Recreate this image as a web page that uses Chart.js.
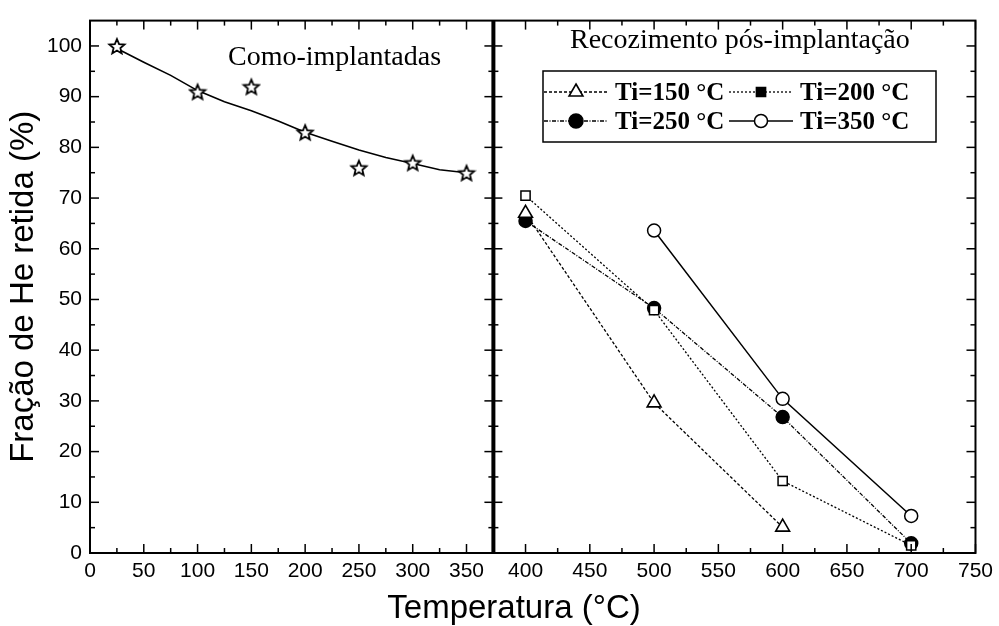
<!DOCTYPE html>
<html>
<head>
<meta charset="utf-8">
<script src="https://cdn.jsdelivr.net/npm/chart.js@4.4.1/dist/chart.umd.min.js"></script>
<style>
  html, body { margin: 0; background: #fff; }
  canvas { display: block; }
</style>
</head>
<body>
<canvas id="grafico" width="999" height="626"></canvas>
<script>
// Como-implantadas (estrelas) e curva de ajuste
const tempComo = [25, 100, 150, 200, 250, 300, 350];
const fracComo = [100, 91, 92, 83, 76, 77, 75];
const tempAjuste = [25, 50, 75, 100, 125, 150, 175, 200, 225, 250, 275, 300, 325, 350];
const fracAjuste = [99.5, 96.8, 94.2, 91.2, 89, 87.2, 85.2, 83, 81.2, 79.5, 78, 76.8, 75.6, 75];

// Recozimento pós-implantação
const tempTi150 = [400, 500, 600];
const fracTi150 = [67, 29.6, 5.1];
const tempTi200 = [400, 500, 600, 700];
const fracTi200 = [70.5, 47.9, 14.2, 1.5];
const tempTi250 = [400, 500, 600, 700];
const fracTi250 = [65.5, 48.3, 26.8, 1.9];
const tempTi350 = [500, 600, 700];
const fracTi350 = [63.6, 30.4, 7.3];

const ticksEsq = [0, 50, 100, 150, 200, 250, 300, 350];
const ticksDir = [400, 450, 500, 550, 600, 650, 700, 750];
const ticksY = [0, 10, 20, 30, 40, 50, 60, 70, 80, 90, 100];

const pares = (xs, ys) => xs.map((x, i) => ({ x: x, y: ys[i] }));

// estrela vazada (marcador)
function estrela(r) {
    const c = document.createElement('canvas');
    const s = Math.ceil(r * 2 + 4);
    c.width = s; c.height = s;
    const g = c.getContext('2d');
    g.beginPath();
    for (let i = 0; i < 10; i++) {
        const rad = i % 2 ? r * 0.45 : r;
        const a = -Math.PI / 2 + i * Math.PI / 5;
        g.lineTo(s / 2 + rad * Math.cos(a), s / 2 + 1 + rad * Math.sin(a));
    }
    g.closePath();
    g.fillStyle = '#fff';
    g.fill();
    g.lineWidth = 1.8;
    g.strokeStyle = '#000';
    g.stroke();
    return c;
}

const fonteSans = 'Liberation Sans';
const fonteSerif = 'Liberation Serif';

// moldura, divisória e ticks para dentro
const molduraPlugin = {
    id: 'moldura',
    afterDraw(chart) {
        const { ctx, chartArea: a, scales } = chart;
        const xE = scales.xEsq, xD = scales.xDir, y = scales.y;
        const meio = xD.left;
        const linha = (x1, y1, x2, y2) => { ctx.beginPath(); ctx.moveTo(x1, y1); ctx.lineTo(x2, y2); ctx.stroke(); };
        ctx.save();
        ctx.strokeStyle = '#000';
        ctx.lineWidth = 1.5;

        const marcaX = (sc, v, len) => {
            const px = sc.getPixelForValue(v);
            linha(px, a.bottom, px, a.bottom - len);
            linha(px, a.top, px, a.top + len);
        };
        ticksEsq.forEach(v => { marcaX(xE, v, 9); if (v + 25 < 375) marcaX(xE, v + 25, 5); });
        ticksDir.forEach(v => { marcaX(xD, v, 9); if (v - 25 > 375) marcaX(xD, v - 25, 5); });

        const marcaY = (v, len) => {
            const py = y.getPixelForValue(v);
            linha(a.left, py, a.left + len, py);
            linha(a.right, py, a.right - len, py);
            linha(meio - len, py, meio + len, py);
        };
        ticksY.forEach(v => { marcaY(v, 9); if (v + 5 < 105) marcaY(v + 5, 5); });

        ctx.lineWidth = 2;
        ctx.strokeRect(a.left, a.top, a.right - a.left, a.bottom - a.top);
        ctx.lineWidth = 4;
        linha(meio, a.top, meio, a.bottom);
        ctx.restore();
    }
};

// textos e legenda
const textosPlugin = {
    id: 'textos',
    afterDraw(chart) {
        const { ctx } = chart;
        ctx.save();
        ctx.fillStyle = '#000';
        ctx.textBaseline = 'alphabetic';
        ctx.textAlign = 'left';
        ctx.font = '28px "' + fonteSerif + '"';
        ctx.fillText('Como-implantadas', 228, 65);
        ctx.fillText('Recozimento pós-implantação', 570, 48);

        ctx.textAlign = 'center';
        ctx.font = '33px "' + fonteSans + '"';
        ctx.fillText('Temperatura (°C)', 514, 618);

        // caixa da legenda
        ctx.strokeStyle = '#000';
        ctx.lineWidth = 1.5;
        ctx.strokeRect(543, 71, 393, 71);

        const itens = chart.data.datasets.filter(d => d.legenda);
        const cols = [543, 728];
        const linhasY = [92, 121];
        itens.forEach((ds, i) => {
            const x0 = cols[i % 2];
            const yy = linhasY[Math.floor(i / 2)];
            ctx.setLineDash(ds.borderDash || []);
            ctx.lineWidth = 1.3;
            ctx.beginPath();
            ctx.moveTo(x0 + 1, yy);
            ctx.lineTo(x0 + 65, yy);
            ctx.stroke();
            ctx.setLineDash([]);
            ctx.fillStyle = ds.legenda.fill;
            ctx.strokeStyle = '#000';
            ctx.lineWidth = ds.pointBorderWidth;
            Chart.helpers.drawPoint(ctx, {
                pointStyle: ds.pointStyle,
                radius: ds.legenda.raio,
                rotation: 0,
                borderWidth: ds.pointBorderWidth
            }, x0 + 33, yy);
            ctx.fillStyle = '#000';
            ctx.textAlign = 'left';
            ctx.font = 'bold 25px "' + fonteSerif + '"';
            ctx.fillText(ds.label, x0 + 72, yy + 8);
        });
        ctx.restore();
    }
};

const ctx = document.getElementById('grafico').getContext('2d');

const fonteTicks = { family: fonteSans, size: 21 };

new Chart(ctx, {
    type: 'scatter',
    data: {
        datasets: [
            {
                label: 'Como-implantadas',
                data: pares(tempComo, fracComo),
                xAxisID: 'xEsq',
                pointStyle: estrela(8),
                pointRadius: 8,
                showLine: false
            },
            {
                label: 'Ajuste',
                data: pares(tempAjuste, fracAjuste),
                xAxisID: 'xEsq',
                showLine: true,
                borderColor: '#000',
                borderWidth: 1.6,
                pointRadius: 0
            },
            {
                label: 'Ti=150 °C',
                data: pares(tempTi150, fracTi150),
                xAxisID: 'xDir',
                showLine: true,
                borderColor: '#000',
                borderWidth: 1.3,
                borderDash: [3, 2],
                pointStyle: 'triangle',
                pointRadius: 8,
                pointBorderWidth: 1.6,
                pointBackgroundColor: '#fff',
                pointBorderColor: '#000',
                legenda: { fill: '#fff', raio: 8 }
            },
            {
                label: 'Ti=200 °C',
                data: pares(tempTi200, fracTi200),
                xAxisID: 'xDir',
                showLine: true,
                borderColor: '#000',
                borderWidth: 1.3,
                borderDash: [2, 2],
                pointStyle: 'rect',
                pointRadius: 6.5,
                pointBorderWidth: 1.5,
                pointBackgroundColor: '#fff',
                pointBorderColor: '#000',
                legenda: { fill: '#000', raio: 6.5 }
            },
            {
                label: 'Ti=250 °C',
                data: pares(tempTi250, fracTi250),
                xAxisID: 'xDir',
                showLine: true,
                borderColor: '#000',
                borderWidth: 1.3,
                borderDash: [4, 1.5, 1, 1.5],
                pointStyle: 'circle',
                pointRadius: 6.5,
                pointBorderWidth: 1.5,
                pointBackgroundColor: '#000',
                pointBorderColor: '#000',
                legenda: { fill: '#000', raio: 7 }
            },
            {
                label: 'Ti=350 °C',
                data: pares(tempTi350, fracTi350),
                xAxisID: 'xDir',
                showLine: true,
                borderColor: '#000',
                borderWidth: 1.5,
                pointStyle: 'circle',
                pointRadius: 6.5,
                pointBorderWidth: 1.5,
                pointBackgroundColor: '#fff',
                pointBorderColor: '#000',
                legenda: { fill: '#fff', raio: 6.5 }
            }
        ]
    },
    options: {
        responsive: false,
        animation: false,
        clip: false,
        layout: { padding: { top: 13, right: 20, left: 0, bottom: 0 } },
        scales: {
            xEsq: {
                type: 'linear',
                position: 'bottom',
                stack: 'temp',
                stackWeight: 405,
                min: 0,
                max: 375,
                afterBuildTicks: s => { s.ticks = ticksEsq.map(v => ({ value: v })); },
                afterFit: s => { s.height = 73; },
                grid: { display: false, drawTicks: false },
                border: { display: false },
                ticks: { padding: 6, maxRotation: 0, autoSkip: false, color: '#000', font: fonteTicks }
            },
            xDir: {
                type: 'linear',
                position: 'bottom',
                stack: 'temp',
                stackWeight: 484,
                min: 375,
                max: 750,
                afterBuildTicks: s => { s.ticks = ticksDir.map(v => ({ value: v })); },
                afterFit: s => { s.height = 73; },
                grid: { display: false, drawTicks: false },
                border: { display: false },
                ticks: { padding: 6, maxRotation: 0, autoSkip: false, color: '#000', font: fonteTicks }
            },
            y: {
                type: 'linear',
                position: 'left',
                min: 0,
                max: 105,
                afterBuildTicks: s => { s.ticks = ticksY.map(v => ({ value: v })); },
                afterFit: s => { s.width = 90; },
                grid: { display: false, drawTicks: false },
                border: { display: false },
                ticks: { padding: 8, color: '#000', font: fonteTicks },
                title: {
                    display: true,
                    text: 'Fração de He retida (%)',
                    color: '#000',
                    font: { family: fonteSans, size: 33 },
                    padding: { top: 4, bottom: 0 }
                }
            }
        },
        plugins: {
            legend: { display: false },
            tooltip: { enabled: false }
        }
    },
    plugins: [molduraPlugin, textosPlugin]
});
</script>
</body>
</html>
